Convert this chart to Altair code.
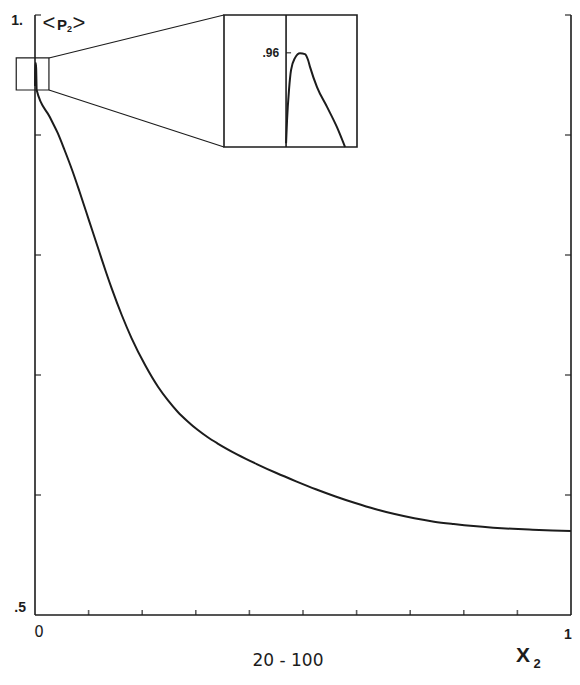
import altair as alt
import pandas as pd

# ---------------- data ----------------
# main curve <P2> vs X2
x_vals = [0.0, 0.0003, 0.0008, 0.0016, 0.0022, 0.0031, 0.0276, 0.0423, 0.0551, 0.0699,
          0.0827, 0.0956, 0.1066, 0.1195, 0.1324, 0.1434, 0.1618, 0.1801, 0.2059, 0.2298,
          0.2482, 0.2665, 0.2849, 0.3033, 0.3217, 0.3401, 0.3768, 0.4136, 0.4504, 0.4871,
          0.5239, 0.5607, 0.5974, 0.6342, 0.6710, 0.7077, 0.7445, 0.7812, 0.8180, 0.8548,
          0.8915, 0.9283, 0.9651, 1.0]
y_vals = [0.9408, 0.9521, 0.9575, 0.9600, 0.9550, 0.9375, 0.9150, 0.9017, 0.8875, 0.8700,
          0.8533, 0.8358, 0.8208, 0.8033, 0.7858, 0.7717, 0.7500, 0.7308, 0.7079, 0.6900,
          0.6788, 0.6692, 0.6613, 0.6543, 0.6483, 0.6431, 0.6339, 0.6258, 0.6183, 0.6114,
          0.6048, 0.5988, 0.5933, 0.5883, 0.5841, 0.5806, 0.5778, 0.5758, 0.5741, 0.5728,
          0.5718, 0.5711, 0.5705, 0.5701]

# inset (magnified start of the curve)
inset_x = [0.0, 0.00011, 0.00033, 0.00056, 0.00101, 0.00157, 0.00213, 0.00247, 0.0027,
           0.00349, 0.00462, 0.00574, 0.00665]
inset_y = [0.9408, 0.9457, 0.9521, 0.9563, 0.9589, 0.9599, 0.9597, 0.9585, 0.9570,
           0.9527, 0.9485, 0.9442, 0.9400]
inset_x_domain = [-0.007, 0.008]
inset_y_domain = [0.94, 0.968]
inset_tick = [0.96]

# axes
x_domain = [0.0, 1.0]
y_domain = [0.5, 1.0]
y_ticks = [0.6, 0.7, 0.8, 0.9, 1.0]
x_ticks = [0.1, 0.2, 0.3, 0.4, 0.5, 0.6, 0.7, 0.8, 0.9]

# zoom rectangle (main coords) and connector targets (inset corners in main coords)
zoom_x = [-0.035, 0.026]
zoom_y = [0.9375, 0.9642]
conn_x2 = [0.3526, 0.3526]
conn_y2 = [1.0, 0.89]

ink = "#1c1c1c"
W, H = 536, 600

xs = alt.Scale(domain=x_domain, zero=False)
ys = alt.Scale(domain=y_domain, zero=False)
ixs = alt.Scale(domain=inset_x_domain, range=[189, 322], zero=False)
iys = alt.Scale(domain=inset_y_domain, range=[132, 0], zero=False)


def X(field, scale):
    return alt.X(field, type="quantitative", scale=scale, axis=None)


def Y(field, scale):
    return alt.Y(field, type="quantitative", scale=scale, axis=None)


# ---------------- main layer ----------------
curve = alt.Chart(pd.DataFrame({"x": x_vals, "y": y_vals})).mark_line(
    color=ink, strokeWidth=2, interpolate="monotone"
).encode(x=X("x", xs), y=Y("y", ys))

frame_df = pd.DataFrame({
    "x": [x_domain[0], x_domain[1], x_domain[0]],
    "x2": [x_domain[0], x_domain[1], x_domain[1]],
    "y": [y_domain[0], y_domain[0], y_domain[0]],
    "y2": [y_domain[1], y_domain[1], y_domain[0]],
})
frame = alt.Chart(frame_df).mark_rule(color=ink, strokeWidth=1.6).encode(
    x=X("x", xs), x2="x2", y=Y("y", ys), y2="y2")

left_ticks = alt.Chart(pd.DataFrame({"x": [x_domain[0]] * len(y_ticks), "y": y_ticks})).mark_tick(
    orient="horizontal", size=6, thickness=1.6, color=ink, xOffset=3
).encode(x=X("x", xs), y=Y("y", ys))
right_ticks = alt.Chart(pd.DataFrame({"x": [x_domain[1]] * len(y_ticks), "y": y_ticks})).mark_tick(
    orient="horizontal", size=6, thickness=1.6, color=ink, xOffset=-3
).encode(x=X("x", xs), y=Y("y", ys))
bottom_ticks = alt.Chart(pd.DataFrame({"x": x_ticks, "y": [y_domain[0]] * len(x_ticks)})).mark_tick(
    orient="vertical", size=5, thickness=1.6, color=ink, yOffset=-2.5
).encode(x=X("x", xs), y=Y("y", ys))

zoom_rect = alt.Chart(pd.DataFrame({"x": [zoom_x[0]], "x2": [zoom_x[1]],
                                    "y": [zoom_y[0]], "y2": [zoom_y[1]]})).mark_rect(
    fillOpacity=0, stroke=ink, strokeWidth=1.2
).encode(x=X("x", xs), x2="x2", y=Y("y", ys), y2="y2")

connectors = alt.Chart(pd.DataFrame({"x": [zoom_x[1], zoom_x[1]], "y": [zoom_y[1], zoom_y[0]],
                                     "x2": conn_x2, "y2": conn_y2})).mark_rule(
    color=ink, strokeWidth=1.2
).encode(x=X("x", xs), x2="x2", y=Y("y", ys), y2="y2")


def label(text, x, y, size, font="Liberation Sans", weight="bold", align="center",
          baseline="alphabetic", dx=0, dy=0):
    return alt.Chart(pd.DataFrame({"x": [x], "y": [y], "t": [text]})).mark_text(
        font=font, fontSize=size, fontWeight=weight, align=align, baseline=baseline,
        dx=dx, dy=dy, color=ink
    ).encode(x=X("x", xs), y=Y("y", ys), text="t:N")


texts = [
    label("1.", 0, 1.0, 14, align="right", dx=-12, dy=10),
    label(".5", 0, 0.5, 14, align="right", dx=-9, dy=-3),
    label("0", 0, 0.5, 15, font="DejaVu Sans", weight="normal", dx=4, dy=22),
    label("1", 1, 0.5, 14, dx=-3, dy=24),
    label("X", 1, 0.5, 21, dx=-48, dy=47),
    label("2", 1, 0.5, 13, dx=-34, dy=53),
    label("20 - 100", 0.5, 0.5, 17, font="DejaVu Sans", weight="normal", dx=-15, dy=51),
    label("<", 0, 1.0, 22, weight="normal", baseline="middle", dx=14, dy=8),
    label("P", 0, 1.0, 15, align="left", dx=22, dy=15),
    label("2", 0, 1.0, 9, align="left", dx=32, dy=17),
    label(">", 0, 1.0, 22, weight="normal", baseline="middle", dx=44, dy=8),
]

main = alt.layer(frame, left_ticks, right_ticks, bottom_ticks, zoom_rect, connectors,
                 curve, *texts)

# ---------------- inset layer ----------------
inset_box = alt.Chart(pd.DataFrame({"x": [inset_x_domain[0]], "x2": [inset_x_domain[1]],
                                    "y": [inset_y_domain[0]], "y2": [inset_y_domain[1]]})).mark_rect(
    fillOpacity=0, stroke=ink, strokeWidth=1.6
).encode(x=X("x", ixs), x2="x2", y=Y("y", iys), y2="y2")

inset_axis = alt.Chart(pd.DataFrame({"x": [0.0], "y": [inset_y_domain[0]],
                                     "y2": [inset_y_domain[1]]})).mark_rule(
    color=ink, strokeWidth=1.6
).encode(x=X("x", ixs), y=Y("y", iys), y2="y2")

inset_tick_m = alt.Chart(pd.DataFrame({"x": [0.0], "y": inset_tick})).mark_tick(
    orient="horizontal", size=5, thickness=1.5, color=ink, xOffset=2.5
).encode(x=X("x", ixs), y=Y("y", iys))

inset_label = alt.Chart(pd.DataFrame({"x": [0.0], "y": inset_tick, "t": [".96"]})).mark_text(
    font="Liberation Sans", fontSize=12, fontWeight="bold", align="right", baseline="middle",
    dx=-7, color=ink
).encode(x=X("x", ixs), y=Y("y", iys), text="t:N")

inset_curve = alt.Chart(pd.DataFrame({"x": inset_x, "y": inset_y})).mark_line(
    color=ink, strokeWidth=2, interpolate="monotone"
).encode(x=X("x", ixs), y=Y("y", iys))

inset = alt.layer(inset_box, inset_axis, inset_tick_m, inset_label, inset_curve)

chart = alt.layer(main, inset).resolve_scale(x="independent", y="independent").properties(
    width=W, height=H,
    padding={"left": 27, "top": 7, "right": 1, "bottom": 57},
    autosize=alt.AutoSizeParams(type="none"),
    background="white",
).configure_view(strokeWidth=0)

chart.save("out.html", embed_options={"renderer": "svg", "actions": False})
